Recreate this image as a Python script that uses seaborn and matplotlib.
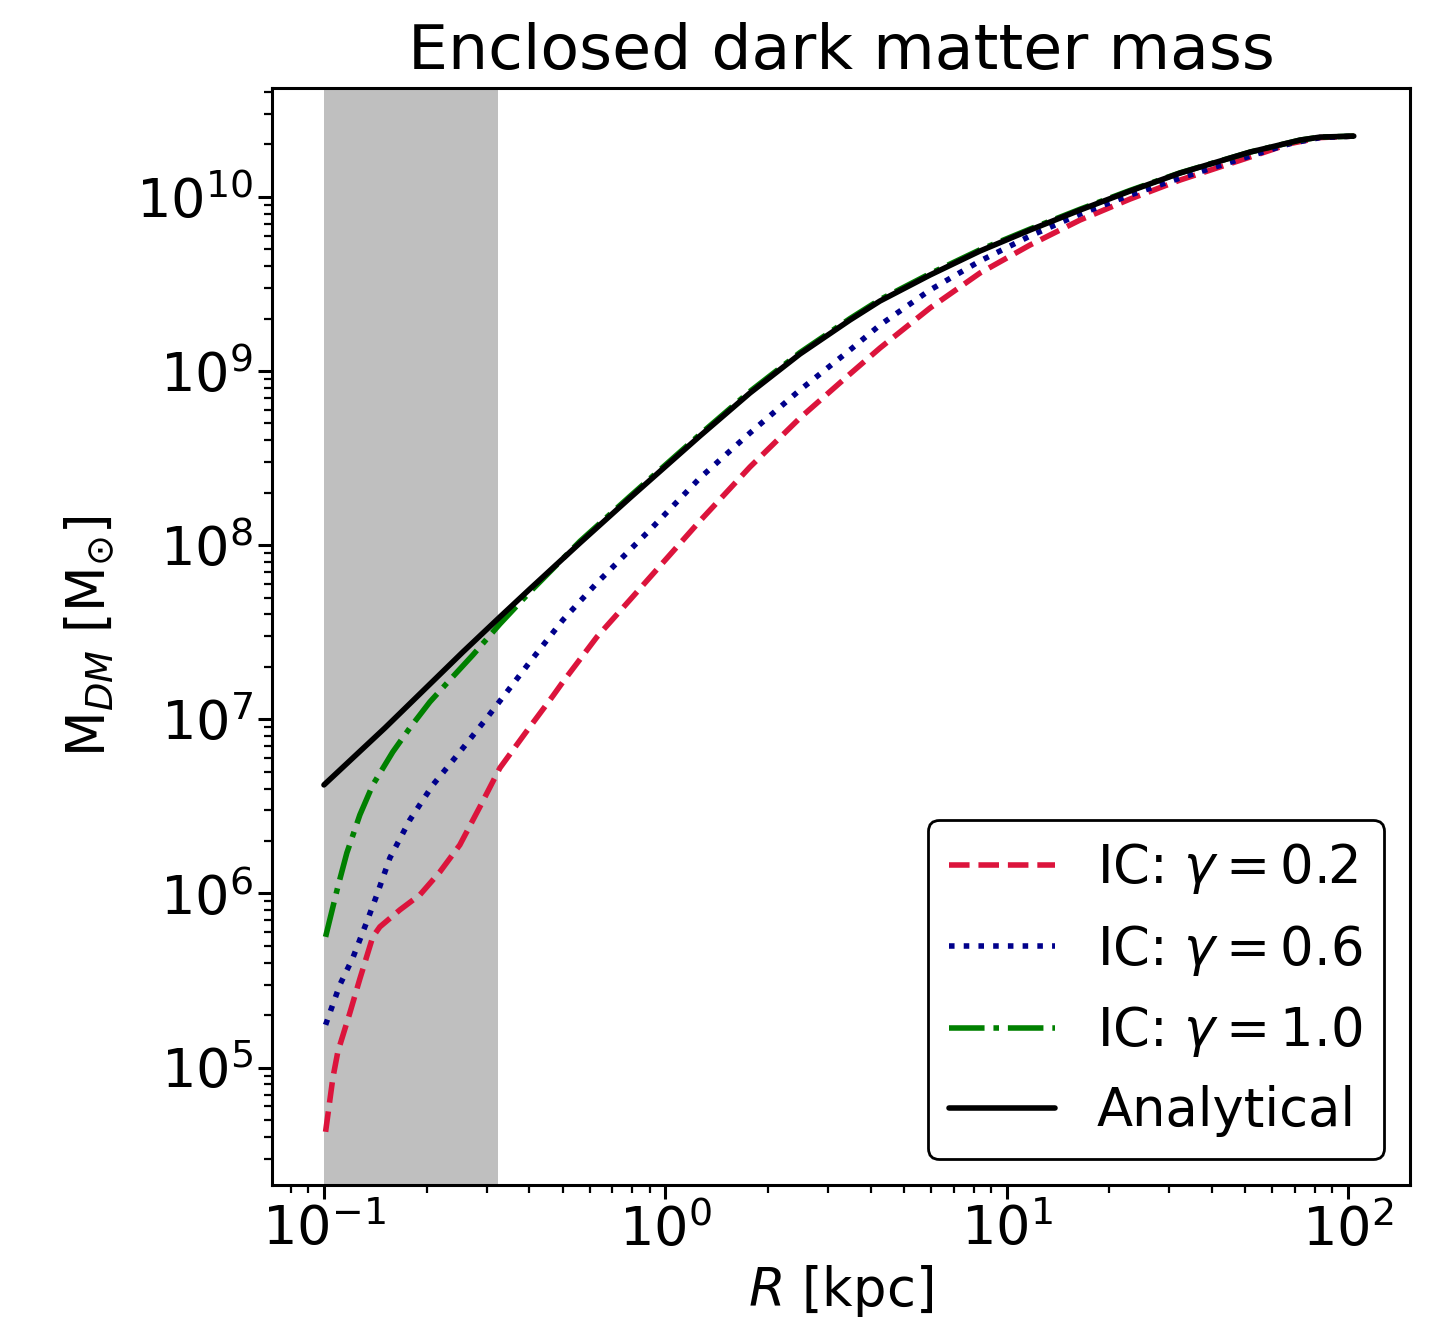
import numpy as np
import pandas as pd
import matplotlib
matplotlib.use("Agg")
import matplotlib.pyplot as plt
import seaborn as sns

# ---- data, R in kpc, log10(M / Msun) ----
r_analytic = [0.1, 0.1509, 0.2553, 0.3277, 0.4012, 0.5622, 0.7874, 1.263, 1.770, 2.480,
              3.475, 4.255, 5.962, 8.351, 11.70, 16.40, 22.98, 32.19, 51.63, 72.34,
              82.79, 104.0]
logm_analytic = [6.6234, 6.9506, 7.3869, 7.5878, 7.7486, 8.0126, 8.2710, 8.6269, 8.8737, 9.0976,
                 9.2928, 9.4019, 9.5511, 9.6889, 9.8094, 9.9242, 10.0333, 10.1366, 10.2572, 10.3261,
                 10.3433, 10.3490]

r_g10 = [0.1011, 0.1098, 0.1167, 0.1274, 0.1390, 0.1591, 0.1785, 0.2043, 0.2338, 0.2731,
         0.3277, 0.4012, 0.5622, 0.7874, 1.263, 1.770, 2.480, 3.475, 4.255, 5.962,
         8.351, 11.70, 16.40, 22.98, 32.19, 51.63, 72.34, 82.79, 104.0]
logm_g10 = [5.7509, 6.0379, 6.2331, 6.4512, 6.6234, 6.8129, 6.9506, 7.0999, 7.2262, 7.3697,
            7.5477, 7.7314, 8.022, 8.280, 8.636, 8.883, 9.106, 9.301, 9.410, 9.559,
            9.696, 9.815, 9.929, 10.037, 10.138, 10.257, 10.326, 10.343, 10.349]

r_g06 = [0.1011, 0.1113, 0.1215, 0.1335, 0.1429, 0.1560, 0.1785, 0.2085, 0.2501, 0.3001,
         0.3435, 0.4012, 0.5012, 0.6304, 0.7874, 0.9013, 1.263, 1.770, 2.480, 3.475,
         4.255, 5.962, 8.351, 11.70, 16.40, 22.98, 32.19, 51.63, 67.62, 82.79, 104.0]
logm_g06 = [5.2457, 5.4753, 5.6303, 5.8370, 5.9920, 6.2044, 6.4225, 6.6234, 6.8129, 7.0080,
            7.1573, 7.3295, 7.5706, 7.7830, 7.9725, 8.0873, 8.3858, 8.6441, 8.8910, 9.1206,
            9.2641, 9.4650, 9.6315, 9.7750, 9.9013, 10.0103, 10.1079, 10.2342, 10.3060, 10.3404, 10.3490]

r_g02 = [0.1011, 0.1062, 0.1098, 0.1191, 0.1274, 0.1390, 0.1458, 0.1669, 0.1910, 0.2186,
         0.2501, 0.2862, 0.3277, 0.3931, 0.4685, 0.5012, 0.6304, 0.7874, 0.9198, 1.263,
         1.770, 2.480, 3.475, 4.255, 4.868, 5.962, 8.351, 11.70, 16.40, 22.98,
         32.19, 51.63, 67.62, 82.79, 104.0]
logm_g02 = [4.6314, 4.9414, 5.0907, 5.3146, 5.5098, 5.7509, 5.8083, 5.9059, 5.9920, 6.1240,
            6.2790, 6.4971, 6.7210, 6.9334, 7.1343, 7.2147, 7.4730, 7.6854, 7.8347, 8.1389,
            8.4489, 8.7302, 8.9828, 9.1320, 9.2239, 9.3617, 9.5626, 9.7233, 9.8668, 9.9874,
            10.0964, 10.2285, 10.3060, 10.3404, 10.3490]

labels = [r"IC: $\gamma = 0.2$", r"IC: $\gamma = 0.6$", r"IC: $\gamma = 1.0$", "Analytical"]
shade_range = [0.1, 0.323]

# ---- plotting ----
sns.set_style("ticks")
plt.rcParams["font.family"] = ["DejaVu Sans"]
plt.rcParams["mathtext.fontset"] = "dejavusans"
plt.rcParams["text.color"] = "black"
plt.rcParams["axes.labelcolor"] = "black"
plt.rcParams["xtick.color"] = "black"
plt.rcParams["ytick.color"] = "black"

fig = plt.figure(figsize=(14.35, 13.29), dpi=100)
ax = fig.add_axes([0.1895, 0.1084, 0.7931, 0.8254])

ax.axvspan(shade_range[0], shade_range[1], color="#bfbfbf", lw=0, zorder=0)

series = [
    (r_g02, logm_g02, "#dc143c", (0, (3.7, 1.6)), labels[0]),
    (r_g06, logm_g06, "#00008b", (0, (1, 1.65)), labels[1]),
    (r_g10, logm_g10, "#008000", (0, (6.4, 1.6, 1, 1.6)), labels[2]),
    (r_analytic, logm_analytic, "black", "-", labels[3]),
]
for r, lm, c, ls, lab in series:
    df = pd.DataFrame({"R": r, "M": 10.0 ** np.array(lm)})
    sns.lineplot(data=df, x="R", y="M", ax=ax, color=c, linestyle=ls, lw=4,
                 label=lab, sort=False, estimator=None)

ax.set_xscale("log")
ax.set_yscale("log")
ax.set_xlim(0.0704, 152)
ax.set_ylim(2.12e4, 4.22e10)

ax.set_title("Enclosed dark matter mass", fontsize=45.5, pad=14, color="black")
ax.set_xlabel(r"$R$ [kpc]", fontsize=38, labelpad=4)
ax.set_ylabel(r"M$_{DM}$ [M$_{\odot}$]", fontsize=38, labelpad=14)

ax.tick_params(axis="both", which="major", labelsize=39, length=10, width=2.2,
               direction="out", color="black", labelcolor="black")
ax.tick_params(axis="both", which="minor", length=5.5, width=1.6, color="black")
for s in ax.spines.values():
    s.set_linewidth(2.2)
    s.set_color("black")
    s.set_visible(True)

leg = ax.legend(loc="lower right", fontsize=38, frameon=True, fancybox=True,
                handlelength=2.0, borderaxespad=0.5)
leg.get_frame().set_edgecolor("black")
leg.get_frame().set_linewidth(2.0)
leg.get_frame().set_alpha(1.0)
for t in leg.get_texts():
    t.set_color("black")

fig.savefig("out.png", dpi=100)
